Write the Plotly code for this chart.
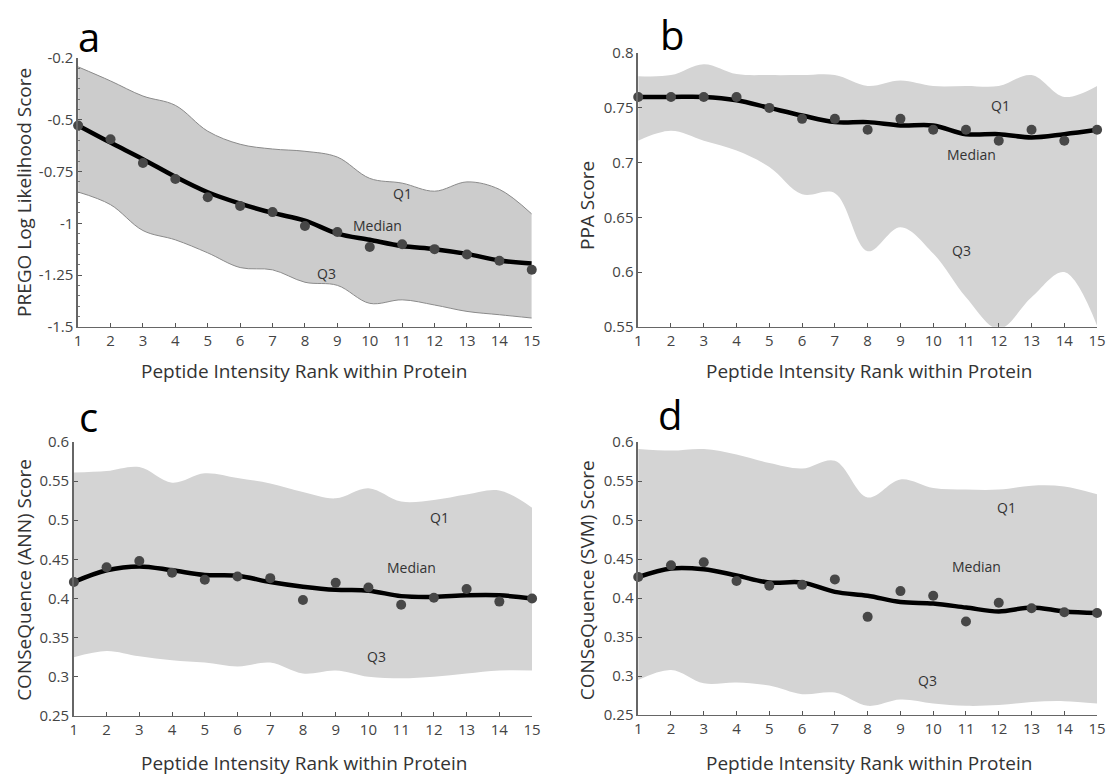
import plotly.graph_objects as go

# ---------------- data ----------------
ranks = list(range(1, 16))

# Panel a: PREGO
a_points = [-0.527, -0.594, -0.709, -0.786, -0.874, -0.916, -0.946, -1.013, -1.042, -1.115, -1.101, -1.125, -1.151, -1.181, -1.225]
a_median = [-0.527, -0.610, -0.690, -0.775, -0.850, -0.905, -0.950, -0.987, -1.050, -1.080, -1.110, -1.125, -1.148, -1.180, -1.194]
a_q1 = [-0.244, -0.312, -0.385, -0.430, -0.555, -0.618, -0.641, -0.652, -0.680, -0.783, -0.806, -0.845, -0.800, -0.836, -0.955]
a_q3 = [-0.849, -0.910, -1.035, -1.080, -1.143, -1.214, -1.225, -1.285, -1.300, -1.387, -1.370, -1.395, -1.426, -1.442, -1.458]

# Panel b: PPA
b_points = [0.76, 0.76, 0.76, 0.76, 0.75, 0.74, 0.74, 0.73, 0.74, 0.73, 0.73, 0.72, 0.73, 0.72, 0.73]
b_median = [0.760, 0.760, 0.760, 0.757, 0.750, 0.743, 0.737, 0.737, 0.734, 0.734, 0.726, 0.726, 0.723, 0.726, 0.730]
b_q1 = [0.779, 0.780, 0.790, 0.781, 0.780, 0.780, 0.780, 0.770, 0.775, 0.770, 0.770, 0.770, 0.780, 0.760, 0.770]
b_q3 = [0.720, 0.729, 0.720, 0.711, 0.696, 0.671, 0.672, 0.619, 0.641, 0.617, 0.577, 0.548, 0.577, 0.600, 0.551]

# Panel c: CONSeQuence (ANN)
c_points = [0.421, 0.440, 0.448, 0.433, 0.424, 0.428, 0.426, 0.398, 0.420, 0.414, 0.392, 0.401, 0.412, 0.396, 0.400]
c_median = [0.421, 0.436, 0.441, 0.436, 0.430, 0.429, 0.421, 0.415, 0.411, 0.410, 0.403, 0.402, 0.404, 0.404, 0.400]
c_q1 = [0.561, 0.563, 0.568, 0.548, 0.560, 0.554, 0.547, 0.536, 0.528, 0.541, 0.524, 0.526, 0.533, 0.538, 0.516]
c_q3 = [0.325, 0.333, 0.326, 0.321, 0.318, 0.313, 0.318, 0.304, 0.308, 0.300, 0.298, 0.300, 0.304, 0.308, 0.308]

# Panel d: CONSeQuence (SVM)
d_points = [0.427, 0.442, 0.446, 0.422, 0.416, 0.417, 0.424, 0.376, 0.409, 0.403, 0.370, 0.394, 0.387, 0.382, 0.381]
d_median = [0.427, 0.438, 0.437, 0.429, 0.420, 0.420, 0.408, 0.403, 0.395, 0.393, 0.388, 0.383, 0.388, 0.383, 0.381]
d_q1 = [0.591, 0.589, 0.591, 0.584, 0.573, 0.566, 0.576, 0.529, 0.552, 0.541, 0.539, 0.539, 0.544, 0.543, 0.533]
d_q3 = [0.295, 0.308, 0.291, 0.292, 0.288, 0.277, 0.279, 0.262, 0.270, 0.265, 0.262, 0.263, 0.267, 0.268, 0.265]

# tick labels
x_ticks = ranks
a_yticks = [-0.2, -0.5, -0.75, -1, -1.25, -1.5]
a_yticktext = ["-0.2", "-0.5", "-0.75", "-1", "-1.25", "-1.5"]
b_yticks = [0.55, 0.6, 0.65, 0.7, 0.75, 0.8]
b_yticktext = ["0.55", "0.6", "0.65", "0.7", "0.75", "0.8"]
cd_yticks = [0.25, 0.3, 0.35, 0.4, 0.45, 0.5, 0.55, 0.6]
cd_yticktext = ["0.25", "0.3", "0.35", "0.4", "0.45", "0.5", "0.55", "0.6"]

panel_letters = ["a", "b", "c", "d"]
y_titles = ["PREGO Log Likelihood Score", "PPA Score", "CONSeQuence (ANN) Score", "CONSeQuence (SVM) Score"]
x_title = "Peptide Intensity Rank within Protein"

# ---------------- figure ----------------
W, H = 1114, 783
FONT = "Open Sans"
TXT = "#333333"

def px(v):
    return v / W

def py(v):
    return 1 - v / H

panels = [
    dict(pts=a_points, med=a_median, q1=a_q1, q3=a_q3, fill="#cccccc", edge="#8a8a8a", ew=1,
         xd=[px(75), px(534)], yd=[py(324), py(48)], yr=[-1.5, -0.2], tv=a_yticks, tt=a_yticktext, minor=True,
         letter=(86, 26), ytitle=(20, 186), xtitle=(304, 369),
         q1lab=(11.0, -0.855), medlab=(10.23, -1.01), q3lab=(8.67, -1.242)),
    dict(pts=b_points, med=b_median, q1=b_q1, q3=b_q3, fill="#d4d4d4", edge="#d4d4d4", ew=0,
         xd=[px(641.7), px(1106)], yd=[py(324), py(43.3)], yr=[0.55, 0.8], tv=b_yticks, tt=b_yticktext, minor=False,
         letter=(676, 24), ytitle=(590, 200), xtitle=(875, 369),
         q1lab=(12.04, 0.752), medlab=(11.18, 0.707), q3lab=(10.87, 0.620)),
    dict(pts=c_points, med=c_median, q1=c_q1, q3=c_q3, fill="#d4d4d4", edge="#d4d4d4", ew=0,
         xd=[px(70.7), px(534.3)], yd=[py(723.3), py(442.3)], yr=[0.25, 0.6], tv=cd_yticks, tt=cd_yticktext, minor=False,
         letter=(85, 416), ytitle=(20, 584), xtitle=(304, 772),
         q1lab=(12.17, 0.504), medlab=(11.32, 0.440), q3lab=(10.25, 0.326)),
    dict(pts=d_points, med=d_median, q1=d_q1, q3=d_q3, fill="#d4d4d4", edge="#d4d4d4", ew=0,
         xd=[px(641.7), px(1106)], yd=[py(722.7), py(442.3)], yr=[0.25, 0.6], tv=cd_yticks, tt=cd_yticktext, minor=False,
         letter=(674, 414), ytitle=(590, 584), xtitle=(875, 772),
         q1lab=(12.23, 0.516), medlab=(11.32, 0.440), q3lab=(9.82, 0.295)),
]

fig = go.Figure()
annotations = []
layout = {}

for i, p in enumerate(panels):
    n = "" if i == 0 else str(i + 1)
    xa, ya = "x" + n, "y" + n
    # Q3 (lower edge)
    fig.add_trace(go.Scatter(x=ranks, y=p["q3"], mode="lines", xaxis=xa, yaxis=ya,
                             line=dict(shape="spline", smoothing=1, color=p["edge"], width=p["ew"]),
                             hoverinfo="skip", showlegend=False))
    # Q1 (upper edge) filled to Q3
    fig.add_trace(go.Scatter(x=ranks, y=p["q1"], mode="lines", xaxis=xa, yaxis=ya, fill="tonexty",
                             fillcolor=p["fill"],
                             line=dict(shape="spline", smoothing=1, color=p["edge"], width=p["ew"]),
                             hoverinfo="skip", showlegend=False))
    # smoothed median
    fig.add_trace(go.Scatter(x=ranks, y=p["med"], mode="lines", xaxis=xa, yaxis=ya,
                             line=dict(shape="spline", smoothing=1, color="#000000", width=4.5),
                             showlegend=False))
    # median points
    fig.add_trace(go.Scatter(x=ranks, y=p["pts"], mode="markers", xaxis=xa, yaxis=ya,
                             marker=dict(size=10, color="#474747"), cliponaxis=False,
                             showlegend=False))

    layout["xaxis" + n] = dict(domain=p["xd"], range=[1, 15], anchor=ya, tickmode="array", tickvals=x_ticks,
                               ticks="inside", ticklen=4, tickcolor="#555", showline=True, linecolor="#666",
                               linewidth=1, showgrid=False, zeroline=False,
                               tickfont=dict(family=FONT, size=15, color="#444"))
    yax = dict(domain=p["yd"], range=p["yr"], anchor=xa, tickmode="array", tickvals=p["tv"], ticktext=p["tt"],
               ticks="inside", ticklen=4, tickcolor="#555", showline=True, linecolor="#666", linewidth=1.5,
               showgrid=False, zeroline=False, tickfont=dict(family=FONT, size=15, color="#444"))
    if p["minor"]:
        yax["minor"] = dict(tick0=0, dtick=0.05, ticks="inside", ticklen=2, tickcolor="#777")
    layout["yaxis" + n] = yax

    # panel letter
    annotations.append(dict(text=panel_letters[i], xref="paper", yref="paper", x=px(p["letter"][0]),
                            y=py(p["letter"][1]), xanchor="center", yanchor="middle", showarrow=False,
                            font=dict(family=FONT, size=40, color="#000")))
    # y title
    annotations.append(dict(text=y_titles[i], xref="paper", yref="paper", x=px(p["ytitle"][0]),
                            y=py(p["ytitle"][1]), xanchor="center", yanchor="middle", textangle=-90,
                            showarrow=False, font=dict(family=FONT, size=19, color=TXT)))
    # x title
    annotations.append(dict(text=x_title, xref="paper", yref="paper", x=px(p["xtitle"][0]),
                            y=py(p["xtitle"][1]), xanchor="center", yanchor="middle",
                            showarrow=False, font=dict(family=FONT, size=19, color=TXT)))
    # band labels
    for key, lab in (("q1lab", "Q1"), ("medlab", "Median"), ("q3lab", "Q3")):
        annotations.append(dict(text=lab, xref=xa, yref=ya, x=p[key][0], y=p[key][1], xanchor="center",
                                yanchor="middle", showarrow=False, font=dict(family=FONT, size=14, color=TXT)))

fig.update_layout(width=W, height=H, margin=dict(l=0, r=0, t=0, b=0), paper_bgcolor="white",
                  plot_bgcolor="white", annotations=annotations, showlegend=False, **layout)

fig.write_html("out.html")
